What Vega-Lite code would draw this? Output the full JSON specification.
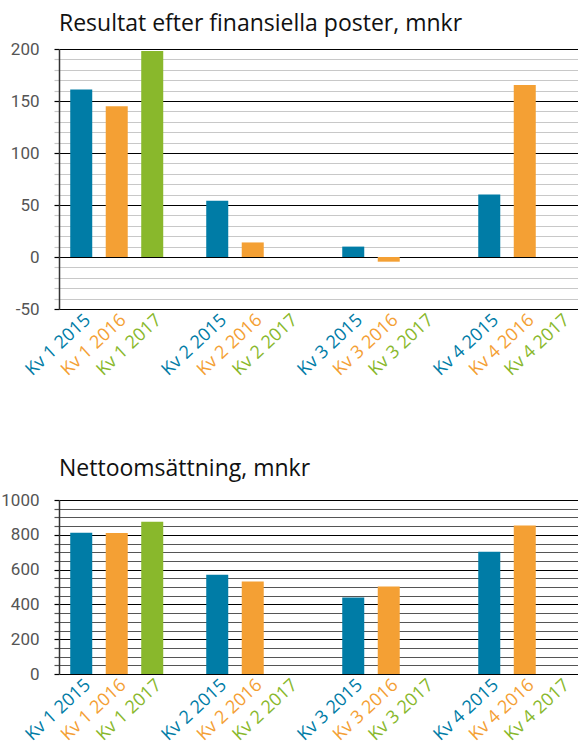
{
  "$schema": "https://vega.github.io/schema/vega-lite/v6.json",
  "padding": {"left": 0, "top": 13, "right": 0, "bottom": 0},
  "background": "white",
  "spacing": 78,
  "config": {
    "view": {"stroke": null},
    "font": "Open Sans",
    "axis": {"labelFont": "Roboto"}
  },
  "datasets": {
    "resultat": [
      {"quarter": "Kv 1", "year": "2015", "label": "Kv 1 2015", "value": 161},
      {"quarter": "Kv 1", "year": "2016", "label": "Kv 1 2016", "value": 145},
      {"quarter": "Kv 1", "year": "2017", "label": "Kv 1 2017", "value": 198},
      {"quarter": "Kv 2", "year": "2015", "label": "Kv 2 2015", "value": 54},
      {"quarter": "Kv 2", "year": "2016", "label": "Kv 2 2016", "value": 14},
      {"quarter": "Kv 2", "year": "2017", "label": "Kv 2 2017", "value": null},
      {"quarter": "Kv 3", "year": "2015", "label": "Kv 3 2015", "value": 10},
      {"quarter": "Kv 3", "year": "2016", "label": "Kv 3 2016", "value": -4.5},
      {"quarter": "Kv 3", "year": "2017", "label": "Kv 3 2017", "value": null},
      {"quarter": "Kv 4", "year": "2015", "label": "Kv 4 2015", "value": 60},
      {"quarter": "Kv 4", "year": "2016", "label": "Kv 4 2016", "value": 165.5},
      {"quarter": "Kv 4", "year": "2017", "label": "Kv 4 2017", "value": null}
    ],
    "netto": [
      {"quarter": "Kv 1", "year": "2015", "label": "Kv 1 2015", "value": 812},
      {"quarter": "Kv 1", "year": "2016", "label": "Kv 1 2016", "value": 810},
      {"quarter": "Kv 1", "year": "2017", "label": "Kv 1 2017", "value": 875},
      {"quarter": "Kv 2", "year": "2015", "label": "Kv 2 2015", "value": 570},
      {"quarter": "Kv 2", "year": "2016", "label": "Kv 2 2016", "value": 531},
      {"quarter": "Kv 2", "year": "2017", "label": "Kv 2 2017", "value": null},
      {"quarter": "Kv 3", "year": "2015", "label": "Kv 3 2015", "value": 440},
      {"quarter": "Kv 3", "year": "2016", "label": "Kv 3 2016", "value": 503},
      {"quarter": "Kv 3", "year": "2017", "label": "Kv 3 2017", "value": null},
      {"quarter": "Kv 4", "year": "2015", "label": "Kv 4 2015", "value": 703},
      {"quarter": "Kv 4", "year": "2016", "label": "Kv 4 2016", "value": 854},
      {"quarter": "Kv 4", "year": "2017", "label": "Kv 4 2017", "value": null}
    ]
  },
  "vconcat": [
    {
      "width": 519,
      "height": 260,
      "title": {"text": "Resultat efter finansiella poster, mnkr", "anchor": "start", "frame": "group", "font": "Open Sans", "fontSize": 23, "fontWeight": "normal", "color": "#111111", "offset": 4},
      "data": {"name": "resultat"},
      "encoding": {
        "x": {"field": "quarter", "type": "nominal", "scale": {"paddingInner": 0.217, "paddingOuter": 0.0165, "align": 1}, "axis": null},
        "xOffset": {"field": "year", "type": "nominal", "scale": {"paddingInner": 0.38, "paddingOuter": 0.19}},
        "color": {"field": "year", "type": "nominal", "scale": {"domain": ["2015", "2016", "2017"], "range": ["#007ca6", "#f4a034", "#89b82c"]}, "legend": null}
      },
      "layer": [
        {
          "mark": {"type": "bar"},
          "encoding": {
            "y": {
              "field": "value", "type": "quantitative",
              "scale": {"domain": [-50, 200], "nice": false, "zero": false},
              "axis": {
                "title": null,
                "values": [-50, -40, -30, -20, -10, 0, 10, 20, 30, 40, 50, 60, 70, 80, 90, 100, 110, 120, 130, 140, 150, 160, 170, 180, 190, 200],
                "tickCount": 100,
                "labelExpr": "datum.value % 50 === 0 ? '' + datum.value : ''",
                "labelOverlap": false,
                "labelFontSize": 17,
                "labelColor": "#555555",
                "labelPadding": 15,
                "tickSize": 5,
                "tickColor": {"condition": {"test": "datum.value % 50 === 0", "value": "#000000"}, "value": "#c8c8c8"},
                "gridColor": {"condition": {"test": "datum.value % 50 === 0", "value": "#000000"}, "value": "#c8c8c8"},
                "gridWidth": 1.2,
                "tickWidth": 1.2,
                "domainColor": "#333333",
                "domainWidth": 1.5
              }
            }
          }
        },
        {
          "mark": {"type": "text", "font": "Open Sans", "angle": -43, "align": "right", "baseline": "middle", "dx": -1, "dy": 11, "fontSize": 18},
          "encoding": {
            "y": {"datum": -50},
            "text": {"field": "label"}
          }
        }
      ]
    },
    {
      "width": 519,
      "height": 174,
      "title": {"text": "Nettoomsättning, mnkr", "anchor": "start", "frame": "group", "font": "Open Sans", "fontSize": 23, "fontWeight": "normal", "color": "#111111", "offset": 10},
      "data": {"name": "netto"},
      "encoding": {
        "x": {"field": "quarter", "type": "nominal", "scale": {"paddingInner": 0.217, "paddingOuter": 0.0165, "align": 1}, "axis": null},
        "xOffset": {"field": "year", "type": "nominal", "scale": {"paddingInner": 0.38, "paddingOuter": 0.19}},
        "color": {"field": "year", "type": "nominal", "scale": {"domain": ["2015", "2016", "2017"], "range": ["#007ca6", "#f4a034", "#89b82c"]}, "legend": null}
      },
      "layer": [
        {
          "mark": {"type": "bar"},
          "encoding": {
            "y": {
              "field": "value", "type": "quantitative",
              "scale": {"domain": [0, 1000], "nice": false},
              "axis": {
                "title": null,
                "values": [0, 50, 100, 150, 200, 250, 300, 350, 400, 450, 500, 550, 600, 650, 700, 750, 800, 850, 900, 950, 1000],
                "tickCount": 100,
                "labelExpr": "datum.value % 200 === 0 ? '' + datum.value : ''",
                "labelOverlap": false,
                "labelFontSize": 17,
                "labelColor": "#555555",
                "labelPadding": 15,
                "tickSize": 5,
                "tickColor": {"condition": {"test": "datum.value % 200 === 0", "value": "#000000"}, "value": "#555555"},
                "gridColor": {"condition": {"test": "datum.value % 200 === 0", "value": "#000000"}, "value": "#555555"},
                "gridWidth": 1.2,
                "tickWidth": 1.2,
                "domainColor": "#333333",
                "domainWidth": 1.5
              }
            }
          }
        },
        {
          "mark": {"type": "text", "font": "Open Sans", "angle": -43, "align": "right", "baseline": "middle", "dx": -1, "dy": 11, "fontSize": 18},
          "encoding": {
            "y": {"datum": 0},
            "text": {"field": "label"}
          }
        }
      ]
    }
  ]
}
